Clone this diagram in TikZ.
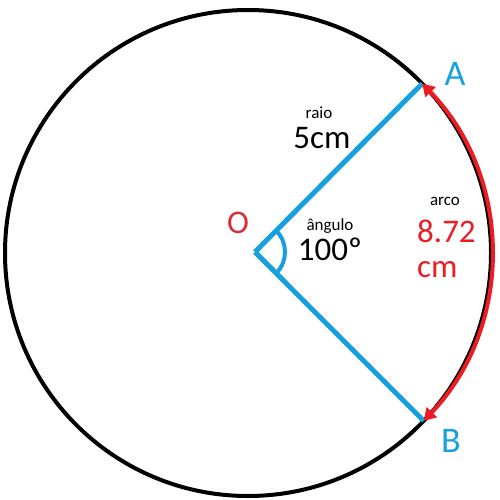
\documentclass[tikz,border=0pt]{standalone}
\usepackage{fontspec}
\setmainfont{Carlito}
\usetikzlibrary{arrows.meta,calc}
\definecolor{lblue}{RGB}{22,160,222}
\definecolor{pred}{RGB}{237,28,36}
\definecolor{ored}{RGB}{215,45,55}
\tikzset{
  bigtxt/.style={font=\fontsize{33}{35}\selectfont, inner sep=0pt, anchor=base},
  smalltxt/.style={font=\fontsize{17}{19}\selectfont, inner sep=0pt, anchor=base},
  ptlabel/.style={font=\fontsize{36}{38}\selectfont, inner sep=0pt, anchor=base, text=lblue},
  radius line/.style={draw=lblue, line width=5pt},
}
\begin{document}
\begin{tikzpicture}[x=1pt,y=-1pt]
\useasboundingbox (0,0) rectangle (499,500);
% circle
\coordinate (C) at (248,253);
\draw[line width=4pt] (C) circle[radius=243];
% points
\coordinate (O) at (255,252);
\coordinate (A) at ($(C)+(-44.2:243)$);
\coordinate (B) at ($(C)+(43.7:243)$);
% radii
\draw[radius line] (O) -- (A);
\draw[radius line] (O) -- (B);
% angle arc
\draw[draw=lblue, line width=4pt] ($(O)+(44.7:30)$) arc[start angle=44.7, end angle=-45.2, radius=30];
% red arc
\draw[pred, line width=4pt, {Triangle[length=12pt,width=14pt]}-{Triangle[length=12pt,width=14pt]}]
  (B) arc[start angle=43.7, end angle=-44.2, radius=243];
% labels
\node[ptlabel] (lA) at (455,86) {A};
\node[ptlabel] (lB) at (451,452) {B};
\node[font=\fontsize{33}{35}\selectfont, inner sep=0pt, anchor=base, text=ored] (lO) at (238,233) {O};
\node[smalltxt] (raio) at (319,118) {raio};
\node[bigtxt] (r5) at (322,148) {5cm};
\node[smalltxt] (ang) at (330,230) {ângulo};
\node[bigtxt] (a100) at (330,260) {100º};
\node[smalltxt] (arco) at (445,205) {arco};
\node[bigtxt, text=pred, anchor=base west] (v872) at (417,242) {8.72};
\node[bigtxt, text=pred, anchor=base west] (vcm) at (417,277) {cm};
\end{tikzpicture}
\end{document}
